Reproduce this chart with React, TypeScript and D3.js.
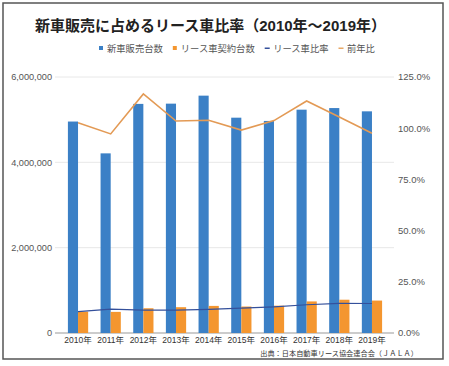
import * as d3 from "d3";

const years = ["2010年", "2011年", "2012年", "2013年", "2014年", "2015年", "2016年", "2017年", "2018年", "2019年"];
const newCarSales = [4956136, 4210220, 5369721, 5375513, 5562887, 5046511, 4970260, 5234165, 5272067, 5195216];
const leaseContracts = [500000, 495000, 580000, 605000, 635000, 620000, 640000, 740000, 780000, 760000];
const leaseRatio = [10.4, 11.7, 11.2, 11.2, 11.5, 12.1, 12.8, 13.8, 14.5, 14.4];
const yoy = [102.7, 97.2, 116.7, 103.5, 103.9, 99.1, 103.7, 113.3, 105.5, 97.5];
const leftTicks = [0, 2000000, 4000000, 6000000];
const rightTicks = [0, 25, 50, 75, 100, 125];

const legendItems = [
  { label: "新車販売台数", color: "#3b80c6", kind: "box" },
  { label: "リース車契約台数", color: "#f4962f", kind: "box" },
  { label: "リース車比率", color: "#34509b", kind: "dash" },
  { label: "前年比", color: "#e8a866", kind: "dash" },
];

const FONT = "'Liberation Sans', 'Noto Sans CJK JP', sans-serif";

export default function App() {
  const W = 449;
  const H = 366;
  const plot = { left: 55, right: 394, top: 77, bottom: 333 };

  const x = d3.scaleBand<string>().domain(years).range([61.7, 388.3]).padding(0);
  const yL = d3.scaleLinear().domain([0, 6000000]).range([plot.bottom, plot.top]);
  const yR = d3.scaleLinear().domain([0, 125]).range([plot.bottom, plot.top]);
  const cx = (i: number) => (x(years[i]) as number) + x.bandwidth() / 2;
  const barW = x.bandwidth() * 0.31;

  const line = d3.line<number>().x((_, i) => cx(i)).y((d) => yR(d));
  const fmt = d3.format(",");

  // legend laid out left to right, widths guessed from glyph count
  let lx = 99;
  const legend = legendItems.map((it) => {
    const w = it.label.length * 9.3;
    const g = { ...it, x: lx };
    lx += 8 + w + 10;
    return g;
  });

  return (
    <svg width={W} height={H} style={{ position: "absolute", left: 0, top: 0, background: "#fff" }} fontFamily={FONT}>
      <rect x={3} y={3} width={440} height={356} fill="none" stroke="#555" strokeWidth={1.5} />
      <text x={35} y={31} fontSize={15} fontWeight="bold" fill="#222">
        新車販売に占めるリース車比率（2010年〜2019年）
      </text>
      {legend.map((it) => (
        <g key={it.label}>
          {it.kind === "box" ? (
            <rect x={it.x} y={46} width={4} height={4} fill={it.color} />
          ) : (
            <rect x={it.x - 0.5} y={47.5} width={5} height={1.5} fill={it.color} />
          )}
          <text x={it.x + 8} y={51.5} fontSize={9.3} fill="#555">{it.label}</text>
        </g>
      ))}

      {leftTicks.map((t) => (
        <g key={t}>
          <line x1={plot.left} x2={plot.right} y1={yL(t)} y2={yL(t)} stroke={t === 0 ? "#999" : "#e2e2e2"} strokeWidth={t === 0 ? 1 : 0.8} />
          <text x={52} y={yL(t) + 3.3} fontSize={9.2} textAnchor="end" fill="#555">{fmt(t)}</text>
        </g>
      ))}
      {rightTicks.map((t) => (
        <text key={t} x={398} y={yR(t) + 3.3} fontSize={9.5} fill="#555">{t.toFixed(1)}%</text>
      ))}

      {years.map((yr, i) => (
        <g key={yr}>
          <rect x={cx(i) - barW} y={yL(newCarSales[i])} width={barW} height={plot.bottom - yL(newCarSales[i])} fill="#3b80c6" />
          <rect x={cx(i)} y={yL(leaseContracts[i])} width={barW} height={plot.bottom - yL(leaseContracts[i])} fill="#f4962f" />
          <text x={cx(i)} y={342.5} fontSize={8.5} textAnchor="middle" fill="#333">{yr}</text>
        </g>
      ))}

      <path d={line(yoy) as string} fill="none" stroke="#e39a55" strokeWidth={1.6} />
      <path d={line(leaseRatio) as string} fill="none" stroke="#34509b" strokeWidth={1.2} />

      <text x={418} y={355.5} fontSize={7.2} textAnchor="end" fill="#333">
        出典：日本自動車リース協会連合会（ＪＡＬＡ）
      </text>
    </svg>
  );
}
